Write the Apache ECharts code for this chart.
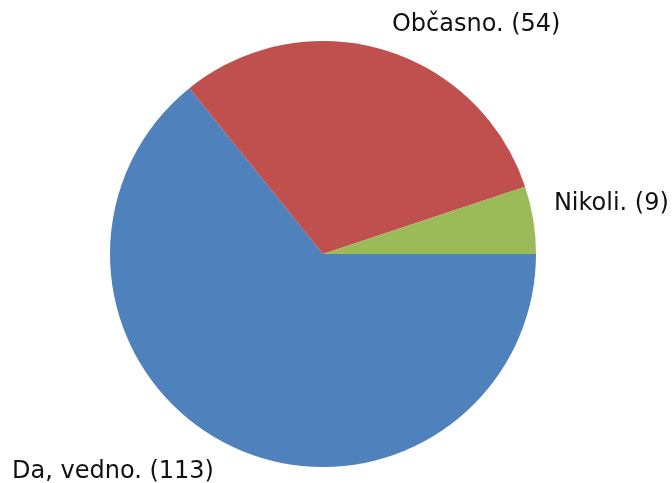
<!DOCTYPE html>
<html>
<head>
<meta charset="utf-8">
<script src="https://cdn.jsdelivr.net/npm/echarts@6/dist/echarts.min.js"></script>
<style>
html,body{margin:0;padding:0;background:#fff;}
#main{width:672px;height:483px;}
</style>
</head>
<body>
<div id="main"></div>
<script>
const categories = ['Da, vedno.', 'Občasno.', 'Nikoli.'];
const values = [113, 54, 9];
const colors = ['#4F81BD', '#C0504D', '#9BBB59'];

const chart = echarts.init(document.getElementById('main'), null, {renderer: 'canvas'});
chart.setOption({
  animation: false,
  backgroundColor: '#ffffff',
  series: [{
    type: 'pie',
    center: [323, 254],
    radius: 213,
    startAngle: 0,
    clockwise: true,
    avoidLabelOverlap: false,
    data: categories.map((c, i) => ({name: c, value: values[i], itemStyle: {color: colors[i]}})),
    label: {
      show: true,
      position: 'outside',
      formatter: p => p.name + ' (' + p.value + ')',
      fontFamily: 'DejaVu Sans',
      fontSize: 24,
      color: '#111111'
    },
    labelLine: {show: false, length: 28, length2: 0},
    labelLayout: function (p) {
      if (p.dataIndex === 1) return {dx: -4, dy: 2};
      if (p.dataIndex === 2) return {dx: -12, dy: -12};
      return {};
    },
    emphasis: {disabled: true}
  }]
});
</script>
</body>
</html>
